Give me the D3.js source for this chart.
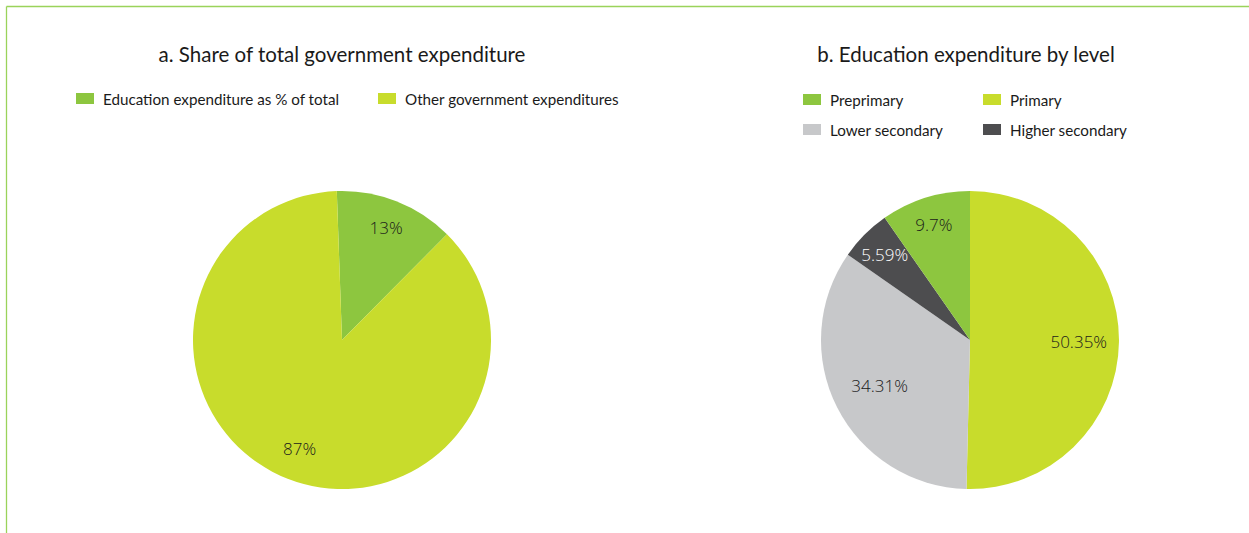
<!DOCTYPE html>
<html>
<head>
<meta charset="utf-8">
<script src="https://cdn.jsdelivr.net/npm/d3@7"></script>
<style>
  html, body { margin: 0; padding: 0; background: #fff; }
  svg { display: block; }
</style>
</head>
<body>
<svg id="chart" width="1249" height="533"></svg>
<script>
// Panel a: share of total government expenditure
const shareLabels = ["Education expenditure as % of total", "Other government expenditures"];
const shareValues = [13, 87];
const shareColors = ["#8dc63f", "#c8dc2c"];

// Panel b: education expenditure by level (legend order)
const levelLabels = ["Preprimary", "Primary", "Lower secondary", "Higher secondary"];
const levelValues = [9.7, 50.35, 34.31, 5.59];
const levelColors = ["#8dc63f", "#c8dc2c", "#c7c8ca", "#4d4d4f"];
const levelTextColors = ["#1a1a1a", "#1a1a1a", "#1a1a1a", "#ffffff"];
// Order in which the slices run clockwise from twelve o'clock
const levelSliceOrder = ["Primary", "Lower secondary", "Higher secondary", "Preprimary"];

const svg = d3.select("#chart");
const W = 1249, H = 533;
const FONT = "Lato, 'Open Sans', sans-serif";
const LABEL_FONT = "'Open Sans', 'Noto Sans', sans-serif";

// Frame: thin green rule along the top and left
svg.append("line").attr("x1", 6.5).attr("y1", 6.5).attr("x2", W).attr("y2", 6.5)
  .attr("stroke", "#9ad35a").attr("stroke-width", 1.3);
svg.append("line").attr("x1", 6.5).attr("y1", 6.5).attr("x2", 6.5).attr("y2", H)
  .attr("stroke", "#9ad35a").attr("stroke-width", 1.3);

const R = 149;
const deg = Math.PI / 180;

function drawPie(cx, cy, items, startDeg, labelFn) {
  const pie = d3.pie().sort(null).value(d => d.value)
    .startAngle(startDeg * deg).endAngle((startDeg + 360) * deg);
  const arc = d3.arc().innerRadius(0).outerRadius(R);
  const g = svg.append("g").attr("transform", `translate(${cx},${cy})`);
  const arcs = pie(items);
  g.selectAll("path").data(arcs).join("path")
    .attr("d", arc)
    .attr("fill", d => d.data.color);
  g.selectAll("text").data(arcs).join("text")
    .attr("transform", d => {
      const share = (d.endAngle - d.startAngle) / (2 * Math.PI);
      const lr = share < 0.2 ? R * 0.81 : share < 0.45 ? R * 0.68 : share < 0.6 ? R * 0.73 : R * 0.78;
      const la = d3.arc().innerRadius(lr).outerRadius(lr);
      const [x, y] = la.centroid(d);
      return `translate(${x},${y})`;
    })
    .attr("text-anchor", "middle")
    .attr("dominant-baseline", "central")
    .attr("font-family", LABEL_FONT)
    .attr("font-size", 17)
    .attr("font-weight", 300)
    .attr("fill", d => d.data.textColor)
    .text(d => labelFn(d.data.value));
}

// ---- Panel a ----
svg.append("text").attr("x", 342).attr("y", 62).attr("text-anchor", "middle")
  .attr("font-family", FONT).attr("font-size", 20.5).attr("fill", "#1a1a1a")
  .text("a. Share of total government expenditure");

const legA = [{ x: 76 }, { x: 378 }];
shareLabels.forEach((lab, i) => {
  svg.append("rect").attr("x", legA[i].x).attr("y", 93).attr("width", 18).attr("height", 11)
    .attr("fill", shareColors[i]);
  svg.append("text").attr("x", legA[i].x + 27).attr("y", 99).attr("dominant-baseline", "central")
    .attr("font-family", FONT).attr("font-size", 15.2).attr("fill", "#1a1a1a").text(lab);
});

drawPie(342, 340,
  shareValues.map((v, i) => ({ value: v, color: shareColors[i], textColor: "#1a1a1a" })),
  -2, v => v + "%");

// ---- Panel b ----
svg.append("text").attr("x", 966).attr("y", 62).attr("text-anchor", "middle")
  .attr("font-family", FONT).attr("font-size", 20.5).attr("fill", "#1a1a1a")
  .text("b. Education expenditure by level");

levelLabels.forEach((lab, i) => {
  const col = i % 2, row = Math.floor(i / 2);
  const x = 803 + col * 180, y = 94 + row * 30;
  svg.append("rect").attr("x", x).attr("y", y).attr("width", 18).attr("height", 11)
    .attr("fill", levelColors[i]);
  svg.append("text").attr("x", x + 27).attr("y", y + 6).attr("dominant-baseline", "central")
    .attr("font-family", FONT).attr("font-size", 15.2).attr("fill", "#1a1a1a").text(lab);
});

drawPie(970, 340,
  levelSliceOrder.map(name => {
    const i = levelLabels.indexOf(name);
    return { value: levelValues[i], color: levelColors[i], textColor: levelTextColors[i] };
  }),
  0, v => v + "%");
</script>
</body>
</html>
